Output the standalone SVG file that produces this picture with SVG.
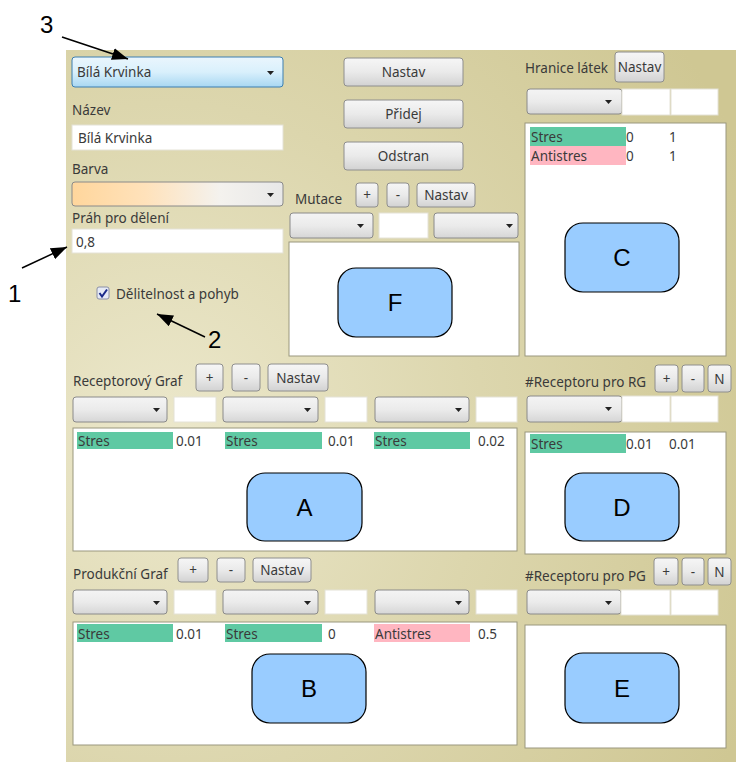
<svg xmlns="http://www.w3.org/2000/svg" width="736" height="762" viewBox="0 0 736 762">
<defs>
<radialGradient id="bg" cx="0.15" cy="0.55" r="0.95">
<stop offset="0" stop-color="#ece8cc"/>
<stop offset="0.5" stop-color="#dcd6ad"/>
<stop offset="1" stop-color="#cfc793"/>
</radialGradient>
<linearGradient id="cmb" x1="0" y1="0" x2="0" y2="1">
<stop offset="0" stop-color="#f4f4f4"/>
<stop offset="0.5" stop-color="#ebebeb"/>
<stop offset="1" stop-color="#d6d6d6"/>
</linearGradient>
<linearGradient id="cmbBlue" x1="0" y1="0" x2="0" y2="1">
<stop offset="0" stop-color="#eaf6fd"/>
<stop offset="0.5" stop-color="#d9f0fc"/>
<stop offset="1" stop-color="#a8d7f2"/>
</linearGradient>
<linearGradient id="cmbOrange" x1="0" y1="0" x2="1" y2="0">
<stop offset="0" stop-color="#ffd69c"/>
<stop offset="0.35" stop-color="#ffe2bb"/>
<stop offset="0.7" stop-color="#f4f2ee"/>
<stop offset="1" stop-color="#e8e8e8"/>
</linearGradient>
<linearGradient id="btn" x1="0" y1="0" x2="0" y2="1">
<stop offset="0" stop-color="#f6f6f6"/>
<stop offset="0.5" stop-color="#eaeaea"/>
<stop offset="1" stop-color="#d2d2d2"/>
</linearGradient>
<marker id="arr" viewBox="0 0 16 12" refX="16" refY="6" markerWidth="16" markerHeight="12" markerUnits="userSpaceOnUse" orient="auto">
<path d="M0,0 L16,6 L0,12 Z" fill="#000"/>
</marker>
<symbol id="dd" overflow="visible"><path d="M0,0 h7 l-3.5,4 z" fill="#222"/></symbol>
</defs>
<style>
text{font-family:"Noto Sans","Open Sans","Liberation Sans",sans-serif;font-size:13.5px;fill:#3a3a3a;}
.big{font-family:"Liberation Sans",Arial,sans-serif;font-size:24px;fill:#000;}
.node{fill:#99ccff;stroke:#000;stroke-width:1.2;}
.cmb{fill:url(#cmb);stroke:#8a8a8a;stroke-width:1;}
.tb{fill:#fff;stroke:#e4e2d6;stroke-width:1;}
.lb{fill:#fff;stroke:#9a977f;stroke-width:1;}
.btn{fill:url(#btn);stroke:#8e8e8e;stroke-width:1;}
.g{fill:#5fc9a3;}
.p{fill:#ffb6c1;}
.bt{text-anchor:middle;}
.conn{stroke:#000;stroke-width:1.5;fill:none;}
</style>
<rect x="0" y="0" width="736" height="762" fill="#fff"/>
<rect x="66" y="50" width="670" height="712" fill="url(#bg)"/>

<g id="left-form">
<rect x="72" y="57" width="211" height="30" rx="3" fill="url(#cmbBlue)" stroke="#3c7fb1"/>
<text x="77" y="77">Bílá Krvinka</text>
<use href="#dd" x="267" y="71"/>
<text x="72" y="115">Název</text>
<rect x="72" y="125" width="211" height="25" class="tb"/>
<text x="78" y="143">Bílá Krvinka</text>
<text x="72" y="174">Barva</text>
<rect x="72" y="182" width="211" height="24" rx="3" fill="url(#cmbOrange)" stroke="#8a8a8a"/>
<use href="#dd" x="267" y="193"/>
<text x="72" y="223">Práh pro dělení</text>
<rect x="72" y="229" width="211" height="24" class="tb"/>
<text x="76" y="247">0,8</text>
<rect x="97" y="287" width="12" height="12" rx="2" fill="#e6eaf5" stroke="#8a8fa6"/>
<path d="M99.5,293 l2.5,3.5 l5,-7" stroke="#1a2a8a" stroke-width="2" fill="none"/>
<text x="116" y="299">Dělitelnost a pohyb</text>
</g>

<g id="mid-buttons">
<rect x="344" y="58" width="119" height="28" rx="3" class="btn"/>
<text x="403.5" y="77" class="bt">Nastav</text>
<rect x="344" y="100" width="119" height="28" rx="3" class="btn"/>
<text x="403.5" y="119" class="bt">Přidej</text>
<rect x="344" y="142" width="119" height="28" rx="3" class="btn"/>
<text x="403.5" y="161" class="bt">Odstran</text>
</g>

<g id="mutace">
<text x="295" y="204">Mutace</text>
<rect x="356" y="183" width="22" height="24" rx="3" class="btn"/>
<text x="367" y="200" class="bt">+</text>
<rect x="387" y="183" width="22" height="24" rx="3" class="btn"/>
<text x="398" y="200" class="bt">-</text>
<rect x="417" y="183" width="58" height="24" rx="3" class="btn"/>
<text x="446" y="200" class="bt">Nastav</text>
<rect x="290" y="213" width="83" height="25" rx="3" class="cmb"/>
<use href="#dd" x="357" y="224"/>
<rect x="379" y="213" width="49" height="25" class="tb"/>
<rect x="434" y="213" width="84" height="25" rx="3" class="cmb"/>
<use href="#dd" x="506" y="224"/>
<rect x="289" y="242" width="230" height="114" class="lb"/>
</g>

<g id="hranice">
<text x="525" y="73">Hranice látek</text>
<rect x="615" y="52" width="49" height="30" rx="3" class="btn"/>
<text x="639.5" y="72" class="bt">Nastav</text>
<rect x="527" y="89" width="95" height="25" rx="3" class="cmb"/>
<use href="#dd" x="605" y="100"/>
<rect x="622" y="89" width="48" height="26" class="tb"/>
<rect x="671" y="89" width="47" height="26" class="tb"/>
<rect x="525" y="123" width="201" height="233" class="lb"/>
<rect x="530" y="127" width="96" height="19" class="g"/>
<text x="531" y="142">Stres</text>
<text x="626" y="142">0</text>
<text x="669" y="142">1</text>
<rect x="530" y="146" width="96" height="19" class="p"/>
<text x="531" y="161">Antistres</text>
<text x="626" y="161">0</text>
<text x="669" y="161">1</text>
</g>

<g id="receptorovy">
<text x="73" y="386">Receptorový Graf</text>
<rect x="196" y="364" width="27" height="27" rx="3" class="btn"/>
<text x="209.5" y="383" class="bt">+</text>
<rect x="232" y="364" width="28" height="27" rx="3" class="btn"/>
<text x="246" y="383" class="bt">-</text>
<rect x="268" y="364" width="60" height="27" rx="3" class="btn"/>
<text x="298" y="383" class="bt">Nastav</text>
<rect x="73" y="397" width="94" height="25" rx="3" class="cmb"/>
<use href="#dd" x="153" y="408"/>
<rect x="174" y="397" width="42" height="25" class="tb"/>
<rect x="223" y="397" width="95" height="25" rx="3" class="cmb"/>
<use href="#dd" x="304" y="408"/>
<rect x="325" y="397" width="42" height="25" class="tb"/>
<rect x="375" y="397" width="94" height="25" rx="3" class="cmb"/>
<use href="#dd" x="455" y="408"/>
<rect x="476" y="397" width="41" height="25" class="tb"/>
<rect x="73" y="428" width="444" height="123" class="lb"/>
<rect x="77" y="432" width="96" height="17" class="g"/>
<text x="78" y="446">Stres</text>
<text x="176" y="446">0.01</text>
<rect x="225" y="432" width="97" height="17" class="g"/>
<text x="226" y="446">Stres</text>
<text x="328" y="446">0.01</text>
<rect x="374" y="432" width="96" height="17" class="g"/>
<text x="375" y="446">Stres</text>
<text x="478" y="446">0.02</text>
</g>

<g id="receptoru-rg">
<text x="525" y="387">#Receptoru pro RG</text>
<rect x="655" y="365" width="23" height="27" rx="3" class="btn"/>
<text x="666.5" y="384" class="bt">+</text>
<rect x="682" y="365" width="22" height="27" rx="3" class="btn"/>
<text x="693" y="384" class="bt">-</text>
<rect x="708" y="365" width="23" height="27" rx="3" class="btn"/>
<text x="719.5" y="384" class="bt">N</text>
<rect x="527" y="396" width="95" height="26" rx="3" class="cmb"/>
<use href="#dd" x="605" y="407"/>
<rect x="622" y="396" width="48" height="26" class="tb"/>
<rect x="671" y="396" width="47" height="26" class="tb"/>
<rect x="525" y="432" width="201" height="122" class="lb"/>
<rect x="530" y="434" width="96" height="19" class="g"/>
<text x="531" y="449">Stres</text>
<text x="626" y="449">0.01</text>
<text x="669" y="449">0.01</text>
</g>

<g id="produkcni">
<text x="73" y="579">Produkční Graf</text>
<rect x="178" y="558" width="30" height="24" rx="3" class="btn"/>
<text x="193" y="575" class="bt">+</text>
<rect x="217" y="558" width="28" height="24" rx="3" class="btn"/>
<text x="231" y="575" class="bt">-</text>
<rect x="253" y="558" width="58" height="24" rx="3" class="btn"/>
<text x="282" y="575" class="bt">Nastav</text>
<rect x="73" y="590" width="94" height="24" rx="3" class="cmb"/>
<use href="#dd" x="153" y="601"/>
<rect x="174" y="590" width="42" height="24" class="tb"/>
<rect x="223" y="590" width="95" height="24" rx="3" class="cmb"/>
<use href="#dd" x="304" y="601"/>
<rect x="325" y="590" width="42" height="24" class="tb"/>
<rect x="375" y="590" width="94" height="24" rx="3" class="cmb"/>
<use href="#dd" x="455" y="601"/>
<rect x="476" y="590" width="41" height="24" class="tb"/>
<rect x="73" y="622" width="444" height="123" class="lb"/>
<rect x="77" y="624" width="96" height="18" class="g"/>
<text x="78" y="639">Stres</text>
<text x="176" y="639">0.01</text>
<rect x="225" y="624" width="97" height="18" class="g"/>
<text x="226" y="639">Stres</text>
<text x="328" y="639">0</text>
<rect x="374" y="624" width="96" height="18" class="p"/>
<text x="375" y="639">Antistres</text>
<text x="478" y="639">0.5</text>
</g>

<g id="receptoru-pg">
<text x="525" y="581">#Receptoru pro PG</text>
<rect x="654" y="558" width="24" height="27" rx="3" class="btn"/>
<text x="666" y="577" class="bt">+</text>
<rect x="682" y="558" width="22" height="27" rx="3" class="btn"/>
<text x="693" y="577" class="bt">-</text>
<rect x="708" y="558" width="23" height="27" rx="3" class="btn"/>
<text x="719.5" y="577" class="bt">N</text>
<rect x="527" y="590" width="94" height="24" rx="3" class="cmb"/>
<use href="#dd" x="605" y="601"/>
<rect x="621" y="590" width="49" height="25" class="tb"/>
<rect x="671" y="590" width="47" height="25" class="tb"/>
<rect x="525" y="625" width="201" height="123" class="lb"/>
</g>

<g id="node-A"><rect x="247" y="473" width="115" height="68" rx="18" class="node"/><text x="304.5" y="516" class="big" text-anchor="middle">A</text></g>
<g id="node-B"><rect x="252" y="654" width="114" height="69" rx="18" class="node"/><text x="309" y="697" class="big" text-anchor="middle">B</text></g>
<g id="node-C"><rect x="565" y="223" width="114" height="69" rx="18" class="node"/><text x="622" y="266" class="big" text-anchor="middle">C</text></g>
<g id="node-D"><rect x="565" y="473" width="114" height="68" rx="18" class="node"/><text x="622" y="516" class="big" text-anchor="middle">D</text></g>
<g id="node-E"><rect x="565" y="653" width="114" height="70" rx="18" class="node"/><text x="622" y="697" class="big" text-anchor="middle">E</text></g>
<g id="node-F"><rect x="338" y="268" width="114" height="69" rx="18" class="node"/><text x="395" y="311" class="big" text-anchor="middle">F</text></g>

<g id="label-1"><text x="8" y="302" class="big">1</text></g>
<g id="label-2"><text x="208" y="348" class="big">2</text></g>
<g id="label-3"><text x="40" y="33" class="big">3</text></g>

<g id="connectors">
<line x1="22" y1="268" x2="67" y2="247" class="conn" marker-end="url(#arr)"/>
<line x1="205" y1="337" x2="157" y2="314" class="conn" marker-end="url(#arr)"/>
<line x1="62" y1="37" x2="128" y2="59" class="conn" marker-end="url(#arr)"/>
</g>
</svg>
